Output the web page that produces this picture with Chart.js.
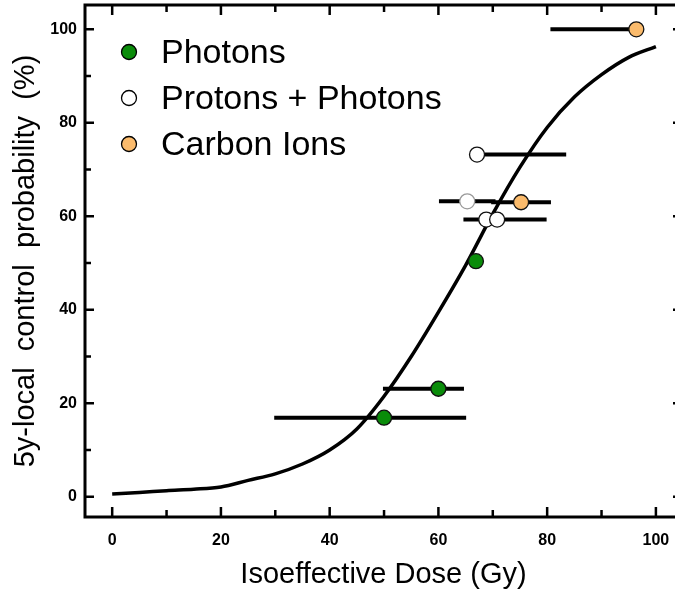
<!DOCTYPE html>
<html>
<head>
<meta charset="utf-8">
<script src="https://cdn.jsdelivr.net/npm/chart.js@4.4.1/dist/chart.umd.min.js"></script>
<style>
  html, body { margin: 0; padding: 0; background: #fff; overflow: hidden; }
  #wrap { position: relative; width: 690px; height: 593px; }
</style>
</head>
<body>
<div id="wrap"><canvas id="chart"></canvas></div>
<script>
// axis ticks
const xTicks = [0, 20, 40, 60, 80, 100];
const xMinor = [10, 30, 50, 70, 90];
const yTicks = [0, 20, 40, 60, 80, 100];
const yMinor = [10, 30, 50, 70, 90];

// fitted dose-response curve
const curveDose = [0, 5, 10, 15, 20, 25, 30, 35, 40, 45, 50, 55, 60, 65, 70, 75, 80, 85, 90, 95, 100];
const curveLC = [0.6, 0.9, 1.3, 1.6, 2.1, 3.5, 4.9, 7.0, 10.0, 14.5, 21.5, 30.0, 39.5, 49.5, 60.5, 70.5, 79.0, 85.5, 90.3, 94.0, 96.3];

// Photons
const photonDose = [50.0, 60.0, 66.9];
const photonLC = [16.9, 23.1, 50.4];
const photonLo = [29.8, 49.8, null];
const photonHi = [65.1, 64.7, null];

// Protons + Photons
const protonDose = [67.1, 65.3, 68.8, 70.8];
const protonLC = [73.2, 63.2, 59.3, 59.3];
const protonLo = [67.1, 60.1, 64.6, null];
const protonHi = [83.5, 70.5, 79.9, null];

// Carbon Ions
const carbonDose = [75.2, 96.4];
const carbonLC = [63.0, 100.0];
const carbonLo = [69.7, 80.6];
const carbonHi = [80.7, 96.4];

const legendLabels = ["Photons", "Protons + Photons", "Carbon Ions"];
const GREEN = "#0a8c0a";
const ORANGE = "#fbbb6c";
const legendColors = [GREEN, "#ffffff", ORANGE];

const tickFont = { family: "'Liberation Sans', Arial, sans-serif", size: 16, weight: "bold" };
const titleFont = { family: "'Liberation Sans', Arial, sans-serif", size: 29 };

function toPoints(xs, ys) {
  return xs.map((x, i) => ({ x, y: ys[i] }));
}

function errorBars(lo, hi, ys) {
  const out = [];
  lo.forEach((l, i) => {
    if (l == null) return;
    out.push({
      type: "line",
      data: [{ x: l, y: ys[i] }, { x: hi[i], y: ys[i] }],
      borderColor: "#000",
      borderWidth: 4,
      pointRadius: 0,
      order: 2,
    });
  });
  return out;
}

function scatterSet(xs, ys, fill, border) {
  return {
    type: "scatter",
    data: toPoints(xs, ys),
    backgroundColor: fill,
    pointBackgroundColor: fill,
    pointBorderColor: border,
    pointBorderWidth: 1.3,
    pointRadius: 7.5,
    pointHoverRadius: 7.5,
    order: 0,
  };
}

const frameTicks = {
  id: "frameTicks",
  beforeDatasetsDraw(chart) {
    const { ctx, chartArea: a, scales } = chart;
    ctx.save();
    ctx.strokeStyle = "#000";
    ctx.lineWidth = 3;
    ctx.strokeRect(a.left, a.top, a.right - a.left, a.bottom - a.top);
    ctx.lineWidth = 2.5;
    const tick = (vals, len) => {
      vals.forEach((v) => {
        const px = scales.x.getPixelForValue(v);
        ctx.beginPath();
        ctx.moveTo(px, a.bottom); ctx.lineTo(px, a.bottom - len);
        ctx.moveTo(px, a.top); ctx.lineTo(px, a.top + len);
        ctx.stroke();
      });
    };
    const ytick = (vals, len) => {
      vals.forEach((v) => {
        const py = scales.y.getPixelForValue(v);
        ctx.beginPath();
        ctx.moveTo(a.left, py); ctx.lineTo(a.left + len, py);
        ctx.moveTo(a.right, py); ctx.lineTo(a.right - len, py);
        ctx.stroke();
      });
    };
    tick(xTicks, 10);
    tick(xMinor, 7);
    ytick(yTicks, 9);
    ytick(yMinor, 6);
    ctx.restore();
  },
  afterDatasetsDraw(chart) {
    const { ctx } = chart;
    ctx.save();
    ctx.font = "34px 'Liberation Sans', Arial, sans-serif";
    ctx.textBaseline = "middle";
    legendLabels.forEach((lab, i) => {
      const y = 52 + i * 46;
      ctx.beginPath();
      ctx.arc(129, y, 7.5, 0, Math.PI * 2);
      ctx.fillStyle = legendColors[i];
      ctx.fill();
      ctx.lineWidth = 1.3;
      ctx.strokeStyle = "#000";
      ctx.stroke();
      ctx.fillStyle = "#000";
      ctx.fillText(lab, 161, y + 2);
    });
    ctx.restore();
  },
};

const datasets = [
  scatterSet(photonDose, photonLC, GREEN, "#111"),
  scatterSet(protonDose, protonLC, "#ffffff", ["#111", "#999", "#111", "#111"]),
  scatterSet(carbonDose, carbonLC, ORANGE, "#111"),
  ...errorBars(photonLo, photonHi, photonLC),
  ...errorBars(protonLo, protonHi, protonLC),
  ...errorBars(carbonLo, carbonHi, carbonLC),
  {
    type: "line",
    data: toPoints(curveDose, curveLC),
    borderColor: "#000",
    borderWidth: 3.5,
    pointRadius: 0,
    cubicInterpolationMode: "monotone",
    order: 3,
  },
];

new Chart(document.getElementById("chart"), {
  type: "scatter",
  data: { datasets },
  options: {
    responsive: true,
    maintainAspectRatio: false,
    animation: false,
    layout: { autoPadding: false, padding: { top: 5, right: 8, left: 0, bottom: 0 } },
    plugins: { legend: { display: false }, tooltip: { enabled: false } },
    scales: {
      x: {
        type: "linear",
        min: -5,
        max: 104.8,
        grid: { display: false, drawTicks: false },
        border: { display: false },
        afterBuildTicks: (s) => { s.ticks = xTicks.map((v) => ({ value: v })); },
        afterFit: (s) => { s.height = 76; s.paddingLeft = 0; s.paddingRight = 0; },
        ticks: { padding: 14, color: "#000", font: tickFont },
        title: {
          display: true,
          text: "Isoeffective Dose (Gy)",
          color: "#000",
          padding: { top: 4, bottom: 1 },
          font: titleFont,
        },
      },
      y: {
        type: "linear",
        min: -4.34,
        max: 105.2,
        grid: { display: false, drawTicks: false },
        border: { display: false },
        afterBuildTicks: (s) => { s.ticks = yTicks.map((v) => ({ value: v })); },
        afterFit: (s) => { s.width = 85; s.paddingTop = 0; s.paddingBottom = 0; },
        ticks: { padding: 8, color: "#000", font: tickFont },
        title: {
          display: true,
          text: "5y-local  control  probability  (%)",
          color: "#000",
          padding: { top: 9, bottom: 0 },
          font: titleFont,
        },
      },
    },
  },
  plugins: [frameTicks],
});
</script>
</body>
</html>
